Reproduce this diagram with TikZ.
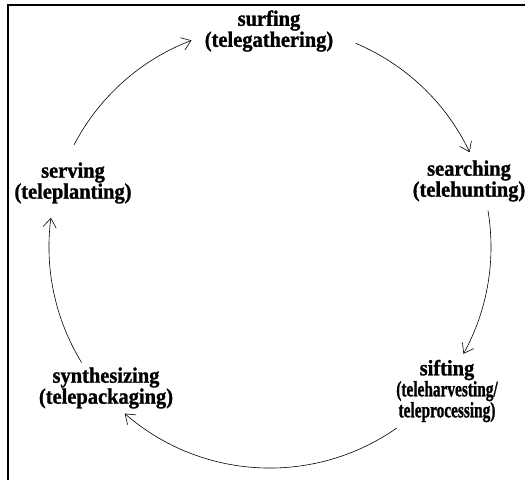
\documentclass[tikz,border=0pt]{standalone}
\usepackage{fontspec}
\setmainfont{Liberation Serif}
\newfontfamily\lblfont{Liberation Serif}[FakeStretch=0.93,FakeBold=1.2]
\usetikzlibrary{arrows.meta,calc}
\begin{document}
\begin{tikzpicture}[x=1pt,y=1pt,
  lbl/.style={font=\lblfont\bfseries\fontsize{22}{21}\selectfont, align=center, inner sep=0pt},
  cyc/.style={line width=0.6pt, -{Straight Barb[length=9pt,width=13pt]}},
  frame/.style={line width=1.2pt}]
\useasboundingbox (0,0) rectangle (526,480);
\coordinate (tl) at (8,475);
\coordinate (tr) at (525,475);
\coordinate (bl) at (8,0);
\draw[frame] (tr) -- (tl) -- (bl);
\node[lbl] (surf) at (269,449) {surfing\\(telegathering)};
\node[lbl] (search) at (469,299) {searching\\(telehunting)};
\node[lbl] (serve) at (73,297) {serving\\(teleplanting)};
\node[lbl] (synth) at (106,92) {synthesizing\\(telepackaging)};
\node[lbl] (sift) at (447,89) {sifting\\\scalebox{0.75}[1]{(teleharvesting/}\\\scalebox{0.75}[1]{teleprocessing)}};
\coordinate (c) at (270,233);
\coordinate (a1) at ($(c)+(152.5:221)$);
\coordinate (a2) at ($(c)+(67.2:221)$);
\coordinate (a3) at ($(c)+(9.5:221)$);
\coordinate (a4) at ($(c)+(-54.9:221)$);
\coordinate (a5) at ($(c)+(211.5:221)$);
\draw[cyc] (a1) arc[start angle=152.5, end angle=110.8, radius=221];
\draw[cyc] (a2) arc[start angle=67.2, end angle=25.4, radius=221];
\draw[cyc] (a3) arc[start angle=9.5, end angle=-28.9, radius=221];
\draw[cyc] (a4) arc[start angle=-54.9, end angle=-131.1, radius=221];
\draw[cyc] (a5) arc[start angle=211.5, end angle=172.4, radius=221];
\end{tikzpicture}
\end{document}
